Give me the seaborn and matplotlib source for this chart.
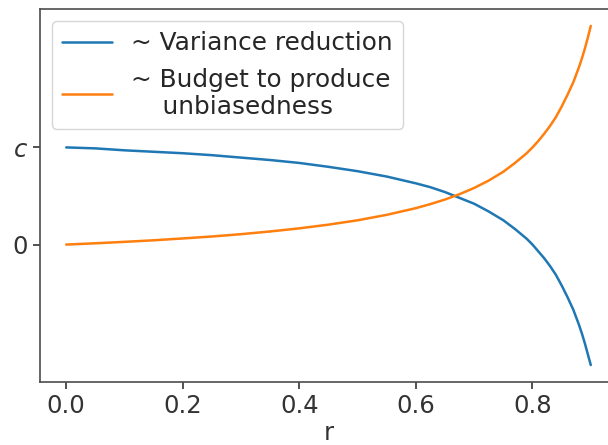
import numpy as np
import pandas as pd
import matplotlib
matplotlib.use("Agg")
import matplotlib.pyplot as plt
import seaborn as sns

# Data (y in units of c)
r_values = [0.0, 0.05, 0.1, 0.15, 0.2, 0.25, 0.3, 0.35, 0.4, 0.45, 0.5, 0.55,
            0.6, 0.625, 0.65, 0.675, 0.7, 0.725, 0.75, 0.77, 0.79, 0.8, 0.81,
            0.82, 0.83, 0.84, 0.85, 0.86, 0.87, 0.875, 0.88, 0.885, 0.89,
            0.895, 0.9]
variance_reduction = [1.0, 0.99, 0.97, 0.955, 0.94, 0.92, 0.895, 0.87, 0.84,
                      0.80, 0.755, 0.70, 0.63, 0.59, 0.54, 0.48, 0.42, 0.34,
                      0.25, 0.16, 0.06, 0.0, -0.07, -0.14, -0.22, -0.31, -0.42,
                      -0.54, -0.67, -0.75, -0.83, -0.92, -1.02, -1.13, -1.24]
budget_unbiased = [0.0, 0.013, 0.028, 0.044, 0.063, 0.083, 0.107, 0.135, 0.167,
                   0.205, 0.25, 0.306, 0.375, 0.417, 0.464, 0.519, 0.583,
                   0.659, 0.75, 0.84, 0.94, 1.0, 1.066, 1.14, 1.22, 1.31, 1.42,
                   1.54, 1.67, 1.75, 1.83, 1.92, 2.02, 2.13, 2.25]
series_labels = ["~ Variance reduction", "~ Budget to produce\n    unbiasedness"]
series_colors = ["#1f77b4", "#ff7f0e"]
ytick_values = [0, 1]
ytick_labels = ["0", "$c$"]
xtick_values = [0.0, 0.2, 0.4, 0.6, 0.8]

df = pd.concat([
    pd.DataFrame({"r": r_values, "value": variance_reduction, "series": series_labels[0]}),
    pd.DataFrame({"r": r_values, "value": budget_unbiased, "series": series_labels[1]}),
], ignore_index=True)

sns.set_style("ticks")
plt.rcParams["font.family"] = ["DejaVu Sans"]

fig = plt.figure(figsize=(6.08, 4.45), dpi=100)
ax = fig.add_axes([40 / 608, (445 - 382) / 445, 577 / 608, 373 / 445])

sns.lineplot(data=df, x="r", y="value", hue="series", hue_order=series_labels,
             palette=series_colors, linewidth=1.8, ax=ax, sort=False,
             estimator=None)

ax.set_xticks(xtick_values)
ax.set_xticklabels([f"{v:.1f}" for v in xtick_values])
ax.set_yticks(ytick_values)
ax.set_yticklabels(ytick_labels)
ax.tick_params(labelsize=17.5, length=5, width=1.2, colors="0.2")
ax.set_xlabel("r", fontsize=17.5, color="0.2", labelpad=2)
ax.set_ylabel("")
for s in ax.spines.values():
    s.set_linewidth(1.2)
    s.set_color("0.3")

leg = ax.legend(fontsize=17.8, loc="upper left", frameon=True)
for t in leg.get_texts():
    t.set_color("0.15")

fig.savefig("out.png", dpi=100)
